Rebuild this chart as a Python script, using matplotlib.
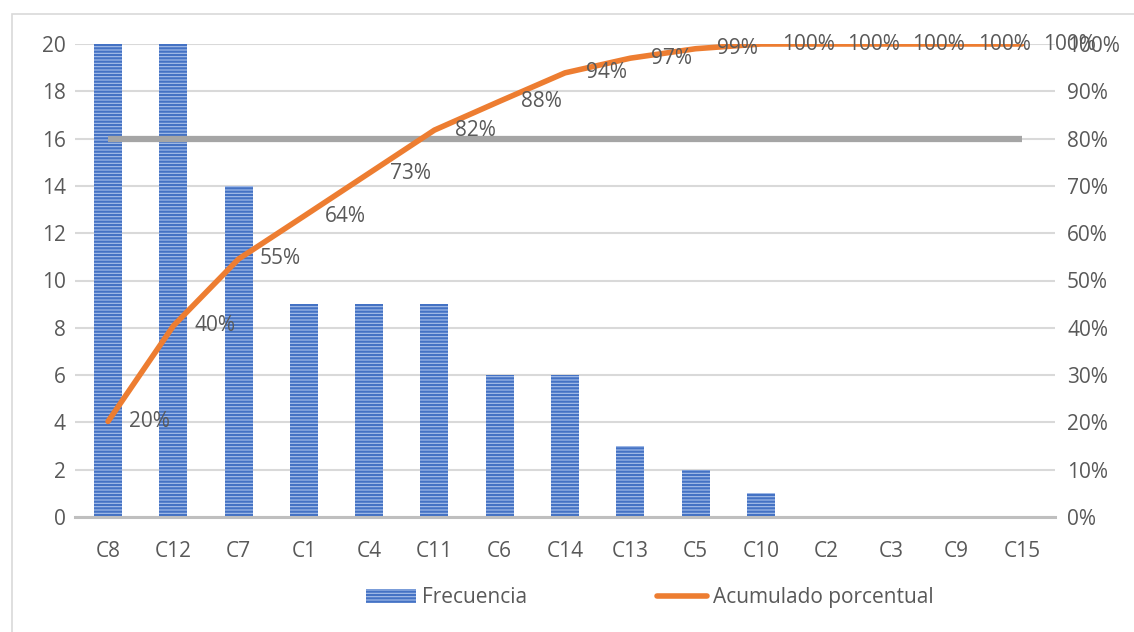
import matplotlib
matplotlib.use("Agg")
import matplotlib.pyplot as plt
from matplotlib.patches import Rectangle, Patch
from matplotlib.lines import Line2D
from matplotlib.ticker import PercentFormatter

plt.rcParams['font.family'] = ['Open Sans', 'DejaVu Sans']
plt.rcParams['hatch.linewidth'] = 1.6

# data
categorias = ['C8', 'C12', 'C7', 'C1', 'C4', 'C11', 'C6', 'C14', 'C13', 'C5',
              'C10', 'C2', 'C3', 'C9', 'C15']
frecuencia = [20, 20, 14, 9, 9, 9, 6, 6, 3, 2, 1, 0, 0, 0, 0]
acumulado = [20.2, 40.4, 54.55, 63.6, 72.7, 81.8, 87.9, 93.9, 97.0, 99.0,
             100, 100, 100, 100, 100]
objetivo = 80

txt = '#595959'
azul = '#4472C4'
naranja = '#ED7D31'
fs = 15

fig = plt.figure(figsize=(11.34, 6.32), dpi=100)
fig.patches.append(Rectangle((12 / 1134, -0.1), 1.2, 1.1 - 14 / 632, transform=fig.transFigure,
                             fill=False, edgecolor='#D9D9D9', linewidth=1.2))

ax = fig.add_axes([75.4 / 1134, 1 - 517 / 632, 979.2 / 1134, 473 / 632])
ax2 = ax.twinx()

x = list(range(len(categorias)))
ax.bar(x, frecuencia, width=0.43, color='#A9C0EA', edgecolor=azul, hatch='-----',
       linewidth=0, zorder=2)
ax.set_xlim(-0.5, len(categorias) - 0.5)
ax.set_ylim(0, 20)
ax.set_yticks(range(0, 21, 2))
ax.set_xticks(x)
ax.set_xticklabels(categorias)
ax.grid(axis='y', color='#D9D9D9', linewidth=1.5, zorder=0)
ax.set_axisbelow(True)
for s in ['top', 'left', 'right']:
    ax.spines[s].set_visible(False)
ax.spines['bottom'].set_color('#BFBFBF')
ax.spines['bottom'].set_linewidth(2.2)
ax.tick_params(axis='both', length=0, labelsize=fs, colors=txt)
ax.tick_params(axis='x', pad=17)
ax.tick_params(axis='y', pad=7)

ax2.hlines(objetivo, 0, len(categorias) - 1, color='#A5A5A5', linewidth=4.5, zorder=3)
ax2.plot(x, acumulado, color=naranja, linewidth=4, solid_capstyle='round', zorder=4)
for xi, v in zip(x, acumulado):
    ax2.annotate(f'{v:.0f}%', (xi, v), xytext=(21, 0), textcoords='offset pixels',
                 ha='left', va='center', fontsize=fs, color=txt, clip_on=False, zorder=5)
ax2.set_ylim(0, 100)
ax2.set_yticks(range(0, 101, 10))
ax2.yaxis.set_major_formatter(PercentFormatter(decimals=0))
for s in ['top', 'left', 'right', 'bottom']:
    ax2.spines[s].set_visible(False)
ax2.tick_params(axis='y', length=0, labelsize=fs, colors=txt, pad=9)

handles = [Patch(facecolor='#A9C0EA', edgecolor=azul, hatch='-----', linewidth=0),
           Line2D([0], [0], color=naranja, linewidth=4, solid_capstyle='round')]
fig.legend(handles, ['Frecuencia', 'Acumulado porcentual'], loc='center',
           bbox_to_anchor=(0.573, 0.054), ncol=2, frameon=False, fontsize=fs,
           labelcolor=txt, handlelength=2.4, handleheight=0.7, handletextpad=0.3,
           columnspacing=6.2)

fig.savefig('out.png', dpi=100)
